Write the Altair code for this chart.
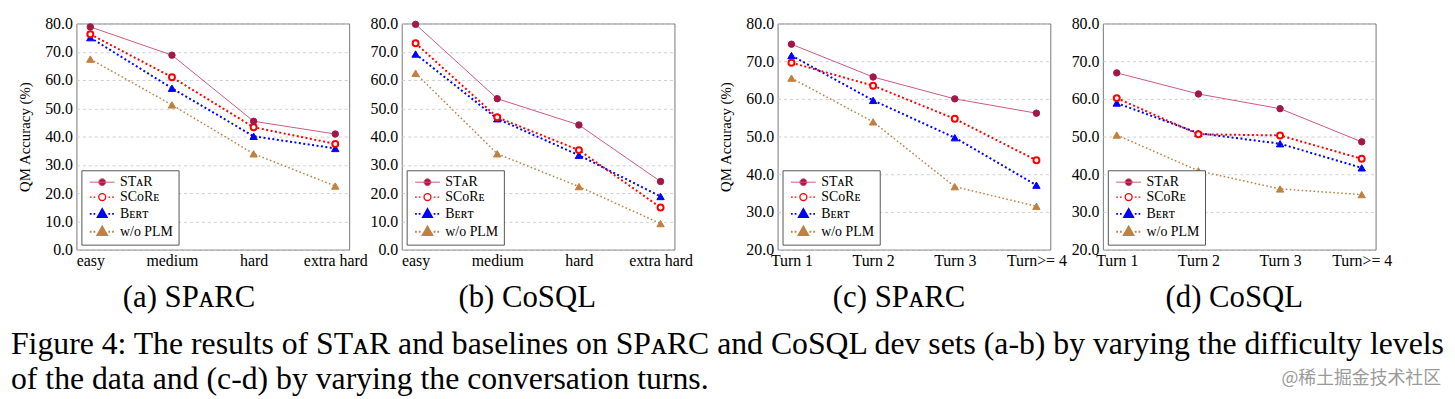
import altair as alt
import pandas as pd

FONT = "Liberation Serif"

difficulty = ["easy", "medium", "hard", "extra hard"]
turns = ["Turn 1", "Turn 2", "Turn 3", "Turn>= 4"]
series = ["STᴀR", "SCᴏRᴇ", "Bᴇʀᴛ", "w/o PLM"]

# (a) SParC, by difficulty
a_star = [78.8, 68.8, 45.4, 40.9]
a_score = [76.2, 61.0, 43.3, 37.4]
a_bert = [75.0, 57.1, 40.1, 35.8]
a_plm = [67.4, 51.2, 33.9, 22.5]
# (b) CoSQL, by difficulty
b_star = [79.7, 53.4, 44.1, 24.1]
b_score = [73.0, 46.8, 35.2, 14.9]
b_bert = [69.2, 46.3, 33.4, 18.8]
b_plm = [62.4, 33.9, 22.3, 9.2]
# (c) SParC, by turn
c_star = [74.5, 65.8, 60.0, 56.2]
c_score = [69.6, 63.5, 54.7, 43.7]
c_bert = [71.5, 59.6, 49.7, 37.1]
c_plm = [65.5, 53.9, 36.7, 31.5]
# (d) CoSQL, by turn
d_star = [66.9, 61.3, 57.4, 48.6]
d_score = [60.2, 50.6, 50.3, 44.1]
d_bert = [58.9, 50.9, 48.1, 41.7]
d_plm = [50.4, 40.9, 36.1, 34.6]

subcaptions = ["(a) SPᴀRC", "(b) CᴏSQL", "(c) SPᴀRC", "(d) CᴏSQL"]
caption_lines = [
    "Figure 4: The results of STᴀR and baselines on SPᴀRC and CᴏSQL dev sets (a-b) by varying the difficulty levels",
    "of the data and (c-d) by varying the conversation turns.",
]
watermark = "@稀土掘金技术社区"

STAR_LINE = "#d0587a"
STAR_MARK = "#a01846"
RED = "#ff0000"
BLUE = "#0000ff"
BROWN = "#c08040"

styles = [
    dict(line=STAR_LINE, lw=1.0, dash=None, shape="circle", fill=STAR_MARK, stroke=STAR_MARK, size=42, sw=1),
    dict(line=RED, lw=2.0, dash=[2, 2.5], shape="circle", fill="white", stroke=RED, size=36, sw=2),
    dict(line=BLUE, lw=2.0, dash=[2, 2.5], shape="triangle-up", fill=BLUE, stroke=BLUE, size=55, sw=1),
    dict(line=BROWN, lw=1.5, dash=[1.6, 2.4], shape="triangle-up", fill=BROWN, stroke=BROWN, size=55, sw=1),
]


def legend_path(kind, dotted):
    x0, x1, cx = -1.0, 6.14, 2.57
    parts = []
    if dotted:
        x = x0
        while x < x1:
            if abs(x + 0.25 - cx) > 1.4:
                parts.append(f"M{x:.2f},0L{min(x + 0.5, x1):.2f},0")
            x += 1.07
    else:
        parts.append(f"M{x0},0L{x1},0")
    if kind == "circle":
        parts.append(f"M{cx - 1:.2f},0A1,1,0,1,0,{cx + 1:.2f},0A1,1,0,1,0,{cx - 1:.2f},0Z")
    else:
        parts.append(f"M{cx:.2f},-1.45L{cx + 1.35:.2f},0.95L{cx - 1.35:.2f},0.95Z")
    return "".join(parts)


legend_shapes = [legend_path(s["shape"], s["dash"] is not None) for s in styles]


def panel(cats, vals, ymin, ytitle, subcap, dx):
    rows = []
    for s, v in zip(series, vals):
        for i, (c, y) in enumerate(zip(cats, v)):
            rows.append({"cat": c, "idx": i, "series": s, "value": y})
    df = pd.DataFrame(rows)

    x = alt.X("cat:N", sort=cats,
              scale=alt.Scale(type="point", padding=0.17, domain=cats),
              axis=alt.Axis(title=None, labelAngle=0, labelFont=FONT, labelFontSize=16,
                            labelColor="black", labelPadding=3, ticks=False, domain=False, grid=False))
    yaxis = dict(labelFont=FONT, labelFontSize=16, labelColor="black", labelPadding=4,
                 ticks=False, domain=False, values=list(range(ymin, 81, 10)), format=".1f",
                 grid=True, gridColor="#cfcfcf", gridDash=[3, 3], gridWidth=1)
    if ytitle:
        yax = alt.Axis(title=ytitle, titleFont=FONT, titleFontSize=15, titleFontWeight="normal",
                       titleColor="black", titlePadding=12, **yaxis)
    else:
        yax = alt.Axis(title=None, **yaxis)
    y = alt.Y("value:Q", scale=alt.Scale(domain=[ymin, 80], nice=False, zero=False), axis=yax)

    base = alt.Chart(df)
    lines, points = [], []
    for s, st in zip(series, styles):
        sub = base.transform_filter(alt.datum.series == s)
        lkw = dict(color=st["line"], strokeWidth=st["lw"])
        if st["dash"]:
            lkw["strokeDash"] = st["dash"]
        lines.append(sub.mark_line(**lkw).encode(x=x, y=y, order="idx:Q"))
        points.append(sub.mark_point(shape=st["shape"], filled=True, fill=st["fill"], stroke=st["stroke"],
                                     strokeWidth=st["sw"], size=st["size"], opacity=1).encode(x=x, y=y))

    leg = base.transform_filter("false").mark_point(filled=True, size=49, opacity=1).encode(
        x=x, y=y,
        shape=alt.Shape("series:N", scale=alt.Scale(domain=series, range=legend_shapes),
                        legend=alt.Legend(title=None)),
        fill=alt.Fill("series:N", scale=alt.Scale(domain=series, range=[s["fill"] for s in styles]),
                      legend=alt.Legend(title=None)),
        stroke=alt.Stroke("series:N", scale=alt.Scale(domain=series, range=[s["line"] for s in styles]),
                          legend=alt.Legend(title=None)),
        strokeWidth=alt.StrokeWidth("series:O", scale=alt.Scale(domain=series, range=[1.0, 2.0, 2.0, 1.6]),
                                    legend=alt.Legend(title=None)),
    )
    layers = lines[::-1] + points[::-1] + [leg]
    return alt.layer(*layers).properties(
        width=275, height=228,
        title=alt.TitleParams(subcap, orient="bottom", font=FONT, fontSize=31, fontWeight="normal",
                              color="black", offset=15, dx=dx),
    )


def spacer(w):
    return alt.Chart(pd.DataFrame({"v": [0]})).mark_point(opacity=0, size=1).encode(
        x=alt.value(1), y=alt.value(1)
    ).properties(width=w, height=228, view=alt.ViewBackground(stroke="transparent"))


pa = panel(difficulty, [a_star, a_score, a_bert, a_plm], 0, "QM Accuracy (%)", subcaptions[0], -24)
pb = panel(difficulty, [b_star, b_score, b_bert, b_plm], 0, None, subcaptions[1], -11)
pc = panel(turns, [c_star, c_score, c_bert, c_plm], 20, "QM Accuracy (%)", subcaptions[2], -15)
pd_ = panel(turns, [d_star, d_score, d_bert, d_plm], 20, None, subcaptions[3], -5)

ind = dict(shape="independent", fill="independent", stroke="independent", strokeWidth="independent")
row = alt.hconcat(pa, spacer(53), pb, spacer(104), pc, spacer(53), pd_,
                  spacing=0, bounds="flush").resolve_scale(**ind).resolve_legend(**ind)

cap_df = pd.DataFrame({"text": caption_lines})
wm_df = pd.DataFrame({"text": [watermark]})
cap1 = alt.Chart(cap_df.iloc[[0]]).mark_text(align="left", baseline="middle", font=FONT, fontSize=32,
                                              color="black").encode(text="text:N", x=alt.value(-66), y=alt.value(29))
cap2 = alt.Chart(cap_df.iloc[[1]]).mark_text(align="left", baseline="middle", font=FONT, fontSize=32,
                                              color="black").encode(text="text:N", x=alt.value(-66), y=alt.value(65))
wm = alt.Chart(wm_df).mark_text(align="right", baseline="middle", font="Noto Sans CJK SC", fontSize=18,
                                color="#9a9a9a").encode(text="text:N", x=alt.value(1376), y=alt.value(65))
footer = alt.layer(cap1, cap2, wm).properties(width=1300, height=70,
                                               view=alt.ViewBackground(stroke="transparent"))

chart = alt.vconcat(row, footer, spacing=0).properties(
    padding={"left": 2, "top": 5, "right": 0, "bottom": 0}
).configure_view(stroke="#777777", strokeWidth=1).configure_legend(
    orient="bottom-left", offset=5, fillColor="white", strokeColor="#555555", padding=5,
    labelFont=FONT, labelFontSize=14, labelColor="black", labelAlign="left", labelOffset=20,
    rowPadding=1, cornerRadius=0, symbolSize=49
)

chart.save("out.html", embed_options={"renderer": "svg", "actions": False})
